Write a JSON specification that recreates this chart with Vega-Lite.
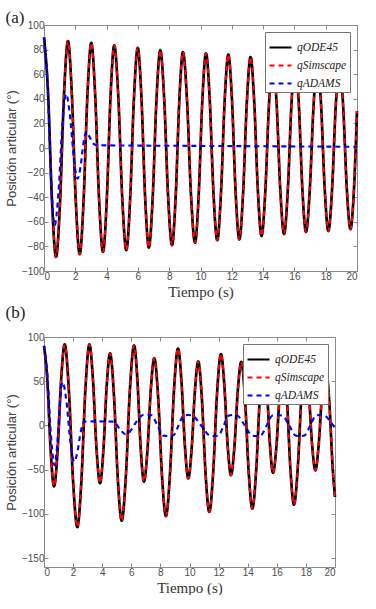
{
  "$schema": "https://vega.github.io/schema/vega-lite/v6.json",
  "padding": {"left": 5, "top": 9, "right": 0, "bottom": 0},
  "spacing": 5,
  "resolve": {"scale": {"color": "independent", "strokeDash": "independent"}, "legend": {"color": "independent", "strokeDash": "independent"}},
  "config": {
    "view": {"stroke": null},
    "axis": {"grid": false, "domainColor": "#8c8c8c", "tickColor": "#8c8c8c", "labelColor": "#4d4d4d", "labelFont": "Liberation Sans", "labelFontSize": 10, "titleFont": "Liberation Sans", "titleFontWeight": "normal", "titleColor": "#404040", "tickSize": -4, "domainWidth": 1, "tickWidth": 1, "labelPadding": 4},
    "axisX": {"titleFont": "Liberation Serif", "titleFontSize": 15, "titleColor": "#333333", "titlePadding": 3},
    "axisY": {"titleFontSize": 13, "titlePadding": 3},
    "legend": {"orient": "top-right", "offset": 7, "padding": 3, "strokeColor": "#777777", "fillColor": "#ffffff", "labelFont": "Liberation Serif", "labelFontStyle": "italic", "labelFontSize": 11.5, "labelColor": "#222222", "symbolType": "stroke", "symbolSize": 484, "symbolStrokeWidth": 2.2, "rowPadding": -6.5, "labelOffset": 4, "title": null},
    "title": {"font": "Liberation Serif", "fontSize": 17, "fontWeight": "normal", "anchor": "start", "frame": "bounds", "color": "#222222"}
  },
  "datasets": {
    "a_ode": [
      {"t":0,"q":90},{"t":0.257,"q":45.35},{"t":0.513,"q":-43.95},{"t":0.77,"q":-88.6},{"t":1.023,"q":-44.7},{"t":1.277,"q":43.1},{"t":1.53,"q":87},{"t":1.78,"q":43.65},{"t":2.03,"q":-43.05},{"t":2.28,"q":-86.4},{"t":2.527,"q":-43.4},{"t":2.773,"q":42.5},{"t":3.02,"q":85.5},{"t":3.27,"q":43},{"t":3.52,"q":-42},{"t":3.77,"q":-84.5},{"t":4.01,"q":-42.5},{"t":4.25,"q":41.5},{"t":4.49,"q":83.5},{"t":4.747,"q":41.9},{"t":5.003,"q":-41.4},{"t":5.26,"q":-83},{"t":5.503,"q":-41.9},{"t":5.747,"q":40.4},{"t":5.99,"q":81.5},{"t":6.227,"q":40.9},{"t":6.463,"q":-40.4},{"t":6.7,"q":-81},{"t":6.943,"q":-40.9},{"t":7.187,"q":39.4},{"t":7.43,"q":79.5},{"t":7.68,"q":39.9},{"t":7.93,"q":-39.4},{"t":8.18,"q":-79},{"t":8.413,"q":-39.75},{"t":8.647,"q":38.75},{"t":8.88,"q":78},{"t":9.137,"q":39.25},{"t":9.393,"q":-38.25},{"t":9.65,"q":-77},{"t":9.883,"q":-38.5},{"t":10.117,"q":38.5},{"t":10.35,"q":77},{"t":10.59,"q":39},{"t":10.83,"q":-37},{"t":11.07,"q":-75},{"t":11.307,"q":-37.25},{"t":11.543,"q":38.25},{"t":11.78,"q":76},{"t":12.013,"q":38.4},{"t":12.247,"q":-36.7},{"t":12.48,"q":-74.3},{"t":12.72,"q":-37.2},{"t":12.96,"q":36.9},{"t":13.2,"q":74},{"t":13.433,"q":37.6},{"t":13.667,"q":-35.1},{"t":13.9,"q":-71.5},{"t":14.14,"q":-35.5},{"t":14.38,"q":36.5},{"t":14.62,"q":72.5},{"t":14.86,"q":36.9},{"t":15.1,"q":-34.4},{"t":15.34,"q":-70},{"t":15.577,"q":-34.75},{"t":15.813,"q":35.75},{"t":16.05,"q":71},{"t":16.28,"q":36.2},{"t":16.51,"q":-33.5},{"t":16.74,"q":-68.3},{"t":16.983,"q":-33.85},{"t":17.227,"q":35.05},{"t":17.47,"q":69.5},{"t":17.703,"q":35.25},{"t":17.937,"q":-33.25},{"t":18.17,"q":-67.5},{"t":18.407,"q":-33.6},{"t":18.643,"q":34.1},{"t":18.88,"q":68},{"t":19.113,"q":34.5},{"t":19.347,"q":-32.5},{"t":19.58,"q":-66},{"t":19.8,"q":-35},{"t":20,"q":30}
    ],
    "a_adams": [
      {"t":0,"q":90},{"t":0.227,"q":51.75},{"t":0.453,"q":-24.75},{"t":0.68,"q":-63},{"t":0.923,"q":-36.25},{"t":1.167,"q":17.25},{"t":1.41,"q":44},{"t":1.657,"q":26.75},{"t":1.903,"q":-7.75},{"t":2.15,"q":-25},{"t":2.333,"q":-15.5},{"t":2.517,"q":3.5},{"t":2.7,"q":13},{"t":2.95,"q":8},{"t":3.25,"q":2.6},{"t":3.6,"q":2.2},{"t":10,"q":1.7},{"t":20,"q":1.0}
    ],
    "b_ode": [
      {"t":0,"q":90},{"t":0.23,"q":50.3},{"t":0.46,"q":-29.1},{"t":0.69,"q":-68.8},{"t":0.933,"q":-28.7},{"t":1.177,"q":51.5},{"t":1.42,"q":91.6},{"t":1.71,"q":40},{"t":2.0,"q":-63.3},{"t":2.29,"q":-114.9},{"t":2.567,"q":-63.3},{"t":2.843,"q":40},{"t":3.12,"q":91.6},{"t":3.363,"q":52.4},{"t":3.607,"q":-26},{"t":3.85,"q":-65.2},{"t":4.08,"q":-28.5},{"t":4.31,"q":44.8},{"t":4.54,"q":81.5},{"t":4.807,"q":34.2},{"t":5.073,"q":-60.3},{"t":5.34,"q":-107.6},{"t":5.623,"q":-58.05},{"t":5.907,"q":41.05},{"t":6.19,"q":90.6},{"t":6.417,"q":52.1},{"t":6.643,"q":-24.9},{"t":6.87,"q":-63.4},{"t":7.107,"q":-28.5},{"t":7.343,"q":41.2},{"t":7.58,"q":76.1},{"t":7.847,"q":31.45},{"t":8.113,"q":-57.85},{"t":8.38,"q":-102.5},{"t":8.657,"q":-55.1},{"t":8.933,"q":39.6},{"t":9.21,"q":87},{"t":9.447,"q":50.3},{"t":9.683,"q":-23.1},{"t":9.92,"q":-59.8},{"t":10.147,"q":-26.7},{"t":10.373,"q":39.4},{"t":10.6,"q":72.5},{"t":10.853,"q":29.9},{"t":11.107,"q":-55.2},{"t":11.36,"q":-97.8},{"t":11.627,"q":-53.15},{"t":11.893,"q":36.15},{"t":12.16,"q":80.8},{"t":12.39,"q":46.55},{"t":12.62,"q":-21.95},{"t":12.85,"q":-56.2},{"t":13.087,"q":-24.15},{"t":13.323,"q":39.95},{"t":13.56,"q":72},{"t":13.813,"q":30.5},{"t":14.067,"q":-52.5},{"t":14.32,"q":-94},{"t":14.58,"q":-51.5},{"t":14.84,"q":33.5},{"t":15.1,"q":76},{"t":15.313,"q":43.6},{"t":15.527,"q":-21.2},{"t":15.74,"q":-53.6},{"t":15.977,"q":-22.7},{"t":16.213,"q":39.1},{"t":16.45,"q":70},{"t":16.693,"q":30.1},{"t":16.937,"q":-49.6},{"t":17.18,"q":-89.5},{"t":17.437,"q":-48.9},{"t":17.693,"q":32.4},{"t":17.95,"q":73},{"t":18.183,"q":42.1},{"t":18.417,"q":-19.8},{"t":18.65,"q":-50.7},{"t":18.883,"q":-21},{"t":19.117,"q":38.3},{"t":19.35,"q":68},{"t":19.6,"q":28.5},{"t":19.85,"q":-50.5},{"t":20,"q":-80.8}
    ],
    "b_adams": [
      {"t":0,"q":90},{"t":0.24,"q":56.25},{"t":0.48,"q":-11.25},{"t":0.72,"q":-45},{"t":0.907,"q":-21.5},{"t":1.093,"q":25.5},{"t":1.28,"q":49},{"t":1.547,"q":26.5},{"t":1.813,"q":-18.5},{"t":2.08,"q":-41},{"t":2.3,"q":-29.6},{"t":2.53,"q":-6.9},{"t":2.75,"q":4.5},{"t":3.8,"q":4.6},{"t":4.8,"q":4.3},{"t":5.2,"q":-4},{"t":5.6,"q":-10},{"t":5.9,"q":-7},{"t":6.3,"q":3},{"t":6.7,"q":11},{"t":7.0,"q":12.5},{"t":7.4,"q":11.5},{"t":7.8,"q":0},{"t":8.2,"q":-11.5},{"t":8.55,"q":-12},{"t":8.9,"q":-11},{"t":9.25,"q":0},{"t":9.6,"q":11.3},{"t":9.9,"q":11.8},{"t":10.2,"q":11},{"t":10.8,"q":0},{"t":11.4,"q":-11.5},{"t":11.7,"q":-12},{"t":12.0,"q":-11.3},{"t":12.35,"q":0},{"t":12.7,"q":11.3},{"t":13.0,"q":11.8},{"t":13.3,"q":11},{"t":13.8,"q":0},{"t":14.3,"q":-11.5},{"t":14.6,"q":-12},{"t":14.9,"q":-11.3},{"t":15.3,"q":0},{"t":15.7,"q":11.3},{"t":16.05,"q":11.8},{"t":16.4,"q":11},{"t":16.85,"q":0},{"t":17.3,"q":-11.5},{"t":17.6,"q":-12},{"t":17.9,"q":-11.3},{"t":18.3,"q":0},{"t":18.7,"q":11.3},{"t":19.0,"q":11.8},{"t":19.3,"q":11},{"t":19.7,"q":4},{"t":20,"q":-3}
    ]
  },
  "vconcat": [
    {
      "title": {"text": "(a)", "offset": -7},
      "width": 313,
      "height": 246,
      "layer": [
        {
          "data": {"name": "a_ode"},
          "mark": {"type": "line", "strokeWidth": 2.7, "interpolate": "monotone"},
          "encoding": {
            "x": {"field": "t", "type": "quantitative", "scale": {"domain": [0, 20]}, "axis": {"orient": "bottom", "values": [0,2,4,6,8,10,12,14,16,18,20], "title": "Tiempo (s)"}},
            "y": {"field": "q", "type": "quantitative", "scale": {"domain": [-100, 100]}, "axis": {"orient": "left", "values": [-100,-80,-60,-40,-20,0,20,40,60,80,100], "title": "Posición articular (°)"}},
            "color": {"datum": "qODE45", "scale": {"domain": ["qODE45", "qSimscape", "qADAMS"], "range": ["#000000", "#ff0000", "#0000ff"]}, "legend": {"title": null}},
            "strokeDash": {"datum": "qODE45", "scale": {"domain": ["qODE45", "qSimscape", "qADAMS"], "range": [[1, 0], [5, 4], [5, 4]]}, "legend": {"title": null}}
          }
        },
        {
          "data": {"name": "a_ode"},
          "mark": {"type": "line", "strokeWidth": 2.1, "interpolate": "monotone"},
          "encoding": {
            "x": {"field": "t", "type": "quantitative", "axis": {"orient": "top", "values": [0,2,4,6,8,10,12,14,16,18,20], "labels": false, "title": null}},
            "y": {"field": "q", "type": "quantitative", "axis": {"orient": "right", "values": [-100,-80,-60,-40,-20,0,20,40,60,80,100], "labels": false, "title": null}},
            "color": {"datum": "qSimscape"},
            "strokeDash": {"datum": "qSimscape"}
          }
        },
        {
          "data": {"name": "a_adams"},
          "mark": {"type": "line", "strokeWidth": 2.1, "interpolate": "monotone"},
          "encoding": {
            "x": {"field": "t", "type": "quantitative", "axis": null},
            "y": {"field": "q", "type": "quantitative", "axis": null},
            "color": {"datum": "qADAMS"},
            "strokeDash": {"datum": "qADAMS"}
          }
        }
      ],
      "resolve": {"axis": {"x": "independent", "y": "independent"}}
    },
    {
      "title": {"text": "(b)", "offset": 10},
      "width": 291,
      "height": 230,
      "layer": [
        {
          "data": {"name": "b_ode"},
          "mark": {"type": "line", "strokeWidth": 2.7, "interpolate": "monotone"},
          "encoding": {
            "x": {"field": "t", "type": "quantitative", "scale": {"domain": [0, 20]}, "axis": {"orient": "bottom", "values": [0,2,4,6,8,10,12,14,16,18,20], "title": "Tiempo (s)"}},
            "y": {"field": "q", "type": "quantitative", "scale": {"domain": [-150, 100]}, "axis": {"orient": "left", "values": [-150,-100,-50,0,50,100], "title": "Posición articular (°)"}},
            "color": {"datum": "qODE45", "scale": {"domain": ["qODE45", "qSimscape", "qADAMS"], "range": ["#000000", "#ff0000", "#0000ff"]}, "legend": {"title": null}},
            "strokeDash": {"datum": "qODE45", "scale": {"domain": ["qODE45", "qSimscape", "qADAMS"], "range": [[1, 0], [5, 4], [5, 4]]}, "legend": {"title": null}}
          }
        },
        {
          "data": {"name": "b_ode"},
          "mark": {"type": "line", "strokeWidth": 2.1, "interpolate": "monotone"},
          "encoding": {
            "x": {"field": "t", "type": "quantitative", "axis": {"orient": "top", "values": [0,2,4,6,8,10,12,14,16,18,20], "labels": false, "title": null}},
            "y": {"field": "q", "type": "quantitative", "axis": {"orient": "right", "values": [-150,-100,-50,0,50,100], "labels": false, "title": null}},
            "color": {"datum": "qSimscape"},
            "strokeDash": {"datum": "qSimscape"}
          }
        },
        {
          "data": {"name": "b_adams"},
          "mark": {"type": "line", "strokeWidth": 2.1, "interpolate": "monotone"},
          "encoding": {
            "x": {"field": "t", "type": "quantitative", "axis": null},
            "y": {"field": "q", "type": "quantitative", "axis": null},
            "color": {"datum": "qADAMS"},
            "strokeDash": {"datum": "qADAMS"}
          }
        }
      ],
      "resolve": {"axis": {"x": "independent", "y": "independent"}}
    }
  ]
}
